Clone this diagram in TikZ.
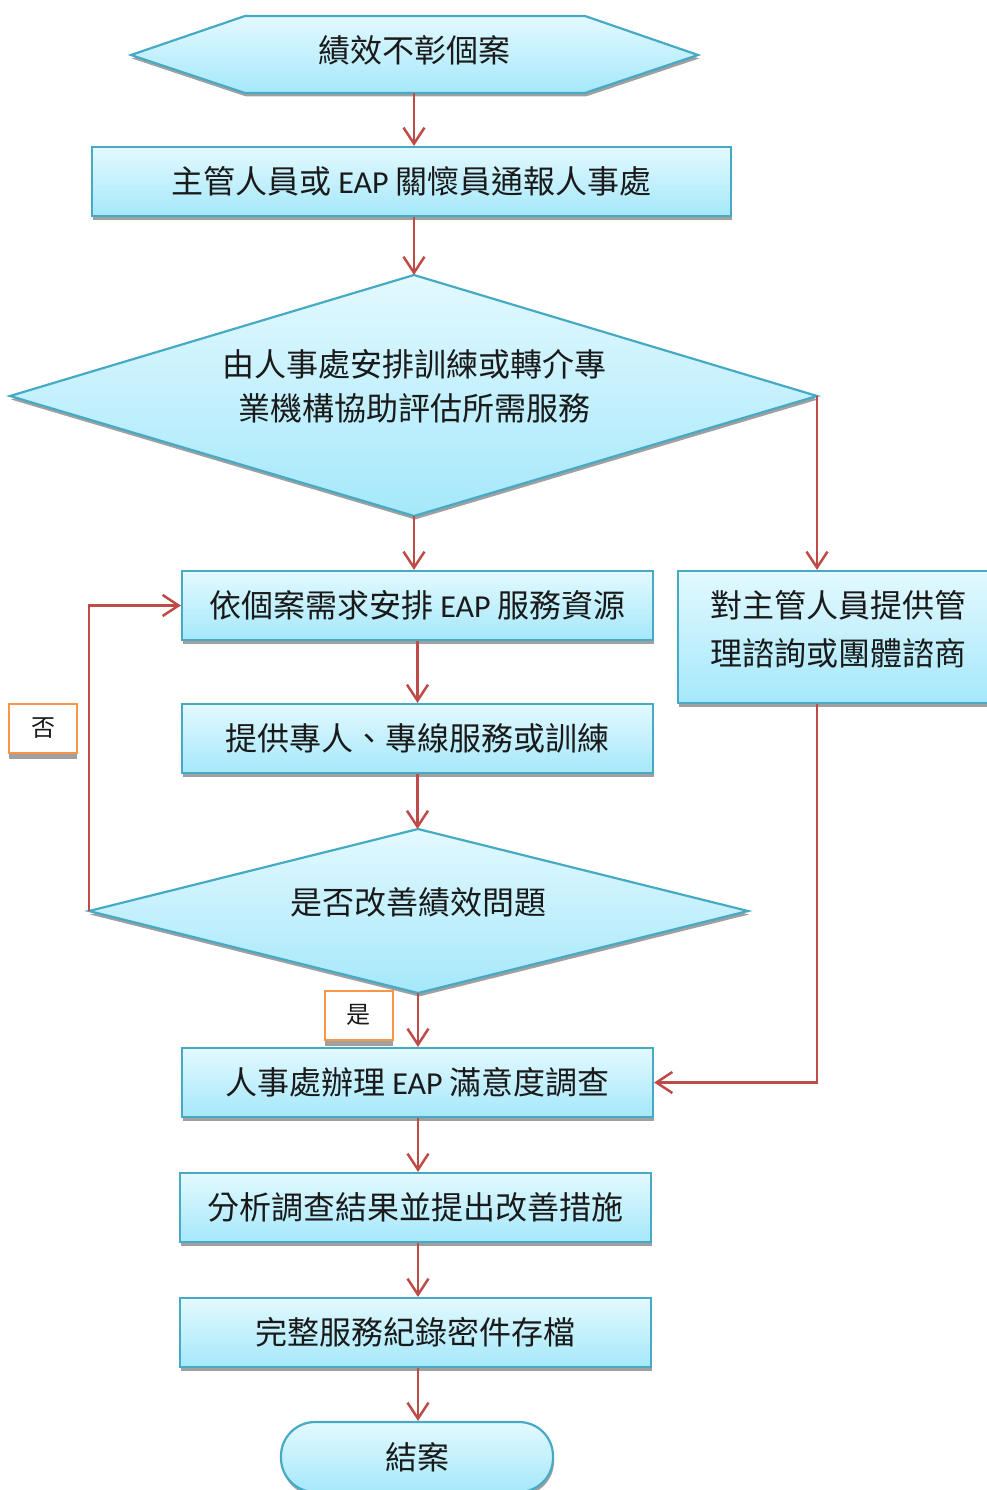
\documentclass[tikz,border=0pt]{standalone}
\usepackage{fontspec}
\setmainfont{Noto Sans CJK TC}
\newfontfamily\lat{Carlito}
\usetikzlibrary{arrows.meta,shadows,calc}
\definecolor{bordc}{HTML}{46AAC5}
\definecolor{arrc}{HTML}{BE4B48}
\definecolor{orc}{HTML}{F79646}
\definecolor{shc}{HTML}{A0A0A0}
\definecolor{topc}{HTML}{E3F9FF}
\definecolor{botc}{HTML}{A5E8FA}
\definecolor{txtc}{HTML}{1A1A1A}
\tikzset{
  flow/.style={draw=bordc, line width=2.2pt, top color=topc, bottom color=botc,
    drop shadow={shadow xshift=1pt, shadow yshift=-3.5pt, fill=shc, opacity=1}},
  box/.style={flow, rectangle, inner sep=0pt, text=txtc, font=\fontsize{32}{44}\selectfont},
  txt/.style={inner sep=0pt, text=txtc, align=center, font=\fontsize{32}{44}\selectfont},
  lab/.style={draw=orc, line width=2pt, fill=white, minimum width=68pt, minimum height=49pt,
    inner sep=0pt, text=txtc, font=\fontsize{24}{28}\selectfont,
    drop shadow={shadow xshift=0pt, shadow yshift=-6pt, fill=shc, opacity=1}},
  conn/.style={draw=arrc, line width=2.5pt, -{Straight Barb[length=16pt,width=21pt,line width=2.5pt]}}
}
\begin{document}
\begin{tikzpicture}[x=1pt,y=-1pt]
\useasboundingbox (0,0) rectangle (987,1490);
\clip (0,0) rectangle (987,1490);
% hexagon
\coordinate (hexN) at (414,16);
\coordinate (hexS) at (414,93);
\path[flow] (131,55) -- (245,16) -- (585,16) -- (698,55) -- (585,93) -- (245,93) -- cycle;
\node[txt] (hex) at (414,50) {績效不彰個案};
% box 1
\node[box, minimum width=639pt, minimum height=69pt] (b1) at (411.5,181.5) {主管人員或 {\lat EAP} 關懷員通報人事處};
% diamond 1
\coordinate (d1t) at (414,275);
\coordinate (d1b) at (414,516);
\coordinate (d1l) at (10,396);
\coordinate (d1r) at (817,396);
\path[flow] (d1l) -- (d1t) -- (d1r) -- (d1b) -- cycle;
\node[txt] (d1) at (414,386) {由人事處安排訓練或轉介專\\業機構協助評估所需服務};
% box 2, 3
\node[box, minimum width=471pt, minimum height=69pt] (b2) at (417.5,605.5) {依個案需求安排 {\lat EAP} 服務資源};
\node[box, minimum width=471pt, minimum height=69pt] (b3) at (417.5,738.5) {提供專人、專線服務或訓練};
% right box
\node[box, minimum width=310pt, minimum height=132pt] (rb) at (833,637) {};
\node[txt, font=\fontsize{32}{48}\selectfont] (rbt) at (838,629) {對主管人員提供管\\理諮詢或團體諮商};
% diamond 2
\coordinate (d2t) at (418,829);
\coordinate (d2b) at (418,993);
\coordinate (d2l) at (89,911);
\coordinate (d2r) at (748,911);
\path[flow] (d2l) -- (d2t) -- (d2r) -- (d2b) -- cycle;
\node[txt] (d2) at (418,902) {是否改善績效問題};
% boxes 4-6
\node[box, minimum width=471pt, minimum height=69pt] (b4) at (417.5,1082.5) {人事處辦理 {\lat EAP} 滿意度調查};
\node[box, minimum width=471pt, minimum height=69pt] (b5) at (415.5,1207.5) {分析調查結果並提出改善措施};
\node[box, minimum width=471pt, minimum height=69pt] (b6) at (415.5,1332.5) {完整服務紀錄密件存檔};
% terminal
\node[box, rounded corners=34pt, minimum width=272pt, minimum height=70pt] (end) at (417,1457) {結案};
% labels
\node[lab] (no) at (43,728.5) {否};
\node[lab] (yes) at (358.5,1015) {是};
% connectors
\draw[conn] (hexS) -- (hexS |- b1.north);
\draw[conn] (hexS |- b1.south) -- (d1t);
\draw[conn] (d1b) -- (d1b |- b2.north);
\draw[conn] (d1r) -- (d1r |- rb.north);
\draw[conn] (b2.south) -- (b3.north);
\draw[conn] (b3.south) -- (b3.south |- d2t);
\draw[conn] (d2b) -- (d2b |- b4.north);
\draw[conn] (d2l) |- (b2.west);
\draw[conn] (d1r |- rb.south) |- (b4.east);
\draw[conn] (d2b |- b4.south) -- (d2b |- b5.north);
\draw[conn] (d2b |- b5.south) -- (d2b |- b6.north);
\draw[conn] (d2b |- b6.south) -- (d2b |- end.north);
\end{tikzpicture}
\end{document}
